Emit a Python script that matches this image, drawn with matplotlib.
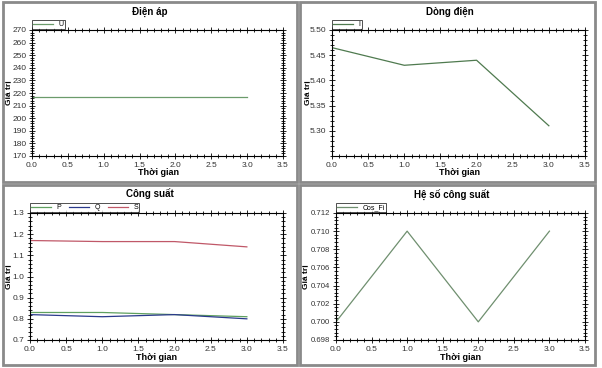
import matplotlib
matplotlib.use("Agg")
import matplotlib.pyplot as plt
from matplotlib.patches import Rectangle
from matplotlib.ticker import MultipleLocator, AutoMinorLocator, FormatStrFormatter

plt.rcParams['font.family'] = ['Liberation Sans', 'DejaVu Sans']

# data
t = [0, 1, 2, 3]
U = [217, 217, 217, 217]
I = [5.465, 5.43, 5.44, 5.31]
P = [0.83, 0.83, 0.82, 0.81]
Q = [0.82, 0.81, 0.82, 0.80]
S = [1.17, 1.165, 1.165, 1.14]
cos_fi = [0.700, 0.710, 0.700, 0.710]

titles = ["Điện áp", "Dòng điện", "Công suất", "Hệ số công suất"]
xlabel = "Thời gian"
ylabel = "Giá trị"

W, H = 602, 368
fig = plt.figure(figsize=(W / 100, H / 100), dpi=100)
fig.patch.set_facecolor("white")


def fx(px):
    return px / W


def fy(py):
    return 1 - py / H


# panel frames (left, top, right, bottom) in pixels
panels = [(3, 2, 297, 182), (300, 2, 595, 182), (3, 185, 297, 365), (300, 185, 595, 365)]
for l, tp, r, b in panels:
    fig.patches.append(Rectangle((fx(l), fy(b)), fx(r - l), (b - tp) / H,
                                 transform=fig.transFigure, fill=False,
                                 edgecolor="#8a8a8a", linewidth=2))

axes_px = [(32, 30, 283, 156), (332, 30, 585, 156), (30, 213, 283, 340), (336, 213, 585, 340)]
axs = []
for l, tp, r, b in axes_px:
    ax = fig.add_axes([fx(l), fy(b), fx(r - l), (b - tp) / H])
    axs.append(ax)


def style(ax, ymaj, fmt, ylim, ylab=6):
    ax.set_xlim(0, 3.5)
    ax.set_ylim(*ylim)
    ax.xaxis.set_major_locator(MultipleLocator(0.5))
    ax.xaxis.set_minor_locator(AutoMinorLocator(5))
    ax.xaxis.set_major_formatter(FormatStrFormatter("%.1f"))
    ax.yaxis.set_major_locator(MultipleLocator(ymaj))
    ax.yaxis.set_minor_locator(AutoMinorLocator(5))
    ax.yaxis.set_major_formatter(FormatStrFormatter(fmt))
    ax.tick_params(which="both", direction="inout", top=True, right=True,
                   labelsize=6, labelcolor="#333333", width=0.6, pad=1.5)
    ax.tick_params(axis="y", labelsize=ylab)
    ax.tick_params(which="major", length=5)
    ax.tick_params(which="minor", length=3)
    for s in ax.spines.values():
        s.set_linewidth(0.8)


def legend(ax, ncol=1):
    ax.legend(loc="lower left", bbox_to_anchor=(0, 1.005), ncol=ncol,
              fontsize=5, frameon=True, fancybox=False, edgecolor="black",
              borderpad=0.2, handlelength=2.8, handletextpad=0.8,
              columnspacing=1.2, borderaxespad=0).get_frame().set_linewidth(0.6)


ax = axs[0]
ax.plot(t, U, color="#6b9b6b", lw=0.9, label="U")
style(ax, 10, "%d", (170, 270))
legend(ax)

ax = axs[1]
ax.plot(t, I, color="#4f7a4f", lw=0.9, label="I")
style(ax, 0.05, "%.2f", (5.25, 5.50))
ax.set_yticks([5.30, 5.35, 5.40, 5.45, 5.50])
legend(ax)

ax = axs[2]
ax.plot(t, P, color="#5fa05f", lw=0.9, label="P")
ax.plot(t, Q, color="#2b3a8c", lw=0.9, label="Q")
ax.plot(t, S, color="#c05868", lw=0.9, label="S")
style(ax, 0.1, "%.1f", (0.7, 1.3))
legend(ax, ncol=3)

ax = axs[3]
ax.plot(t, cos_fi, color="#6f8f6f", lw=0.9, label="Cos_Fi")
style(ax, 0.002, "%.3f", (0.698, 0.712), ylab=5.6)
legend(ax)

# titles and axis labels
title_pos = [(150, 12), (450, 12), (150, 194), (452, 195)]
xlab_pos = [(158, 173), (459, 173), (157, 357), (461, 357)]
ylab_pos = [(9, 93), (308, 93), (9, 277), (306, 277)]
for i in range(4):
    fig.text(fx(title_pos[i][0]), fy(title_pos[i][1]), titles[i], ha="center",
             va="center", fontsize=7, fontweight="bold")
    fig.text(fx(xlab_pos[i][0]), fy(xlab_pos[i][1]), xlabel, ha="center",
             va="center", fontsize=6.5, fontweight="bold")
    fig.text(fx(ylab_pos[i][0]), fy(ylab_pos[i][1]), ylabel, ha="center",
             va="center", fontsize=6, fontweight="bold", rotation=90)

fig.savefig("out.png", dpi=100)
